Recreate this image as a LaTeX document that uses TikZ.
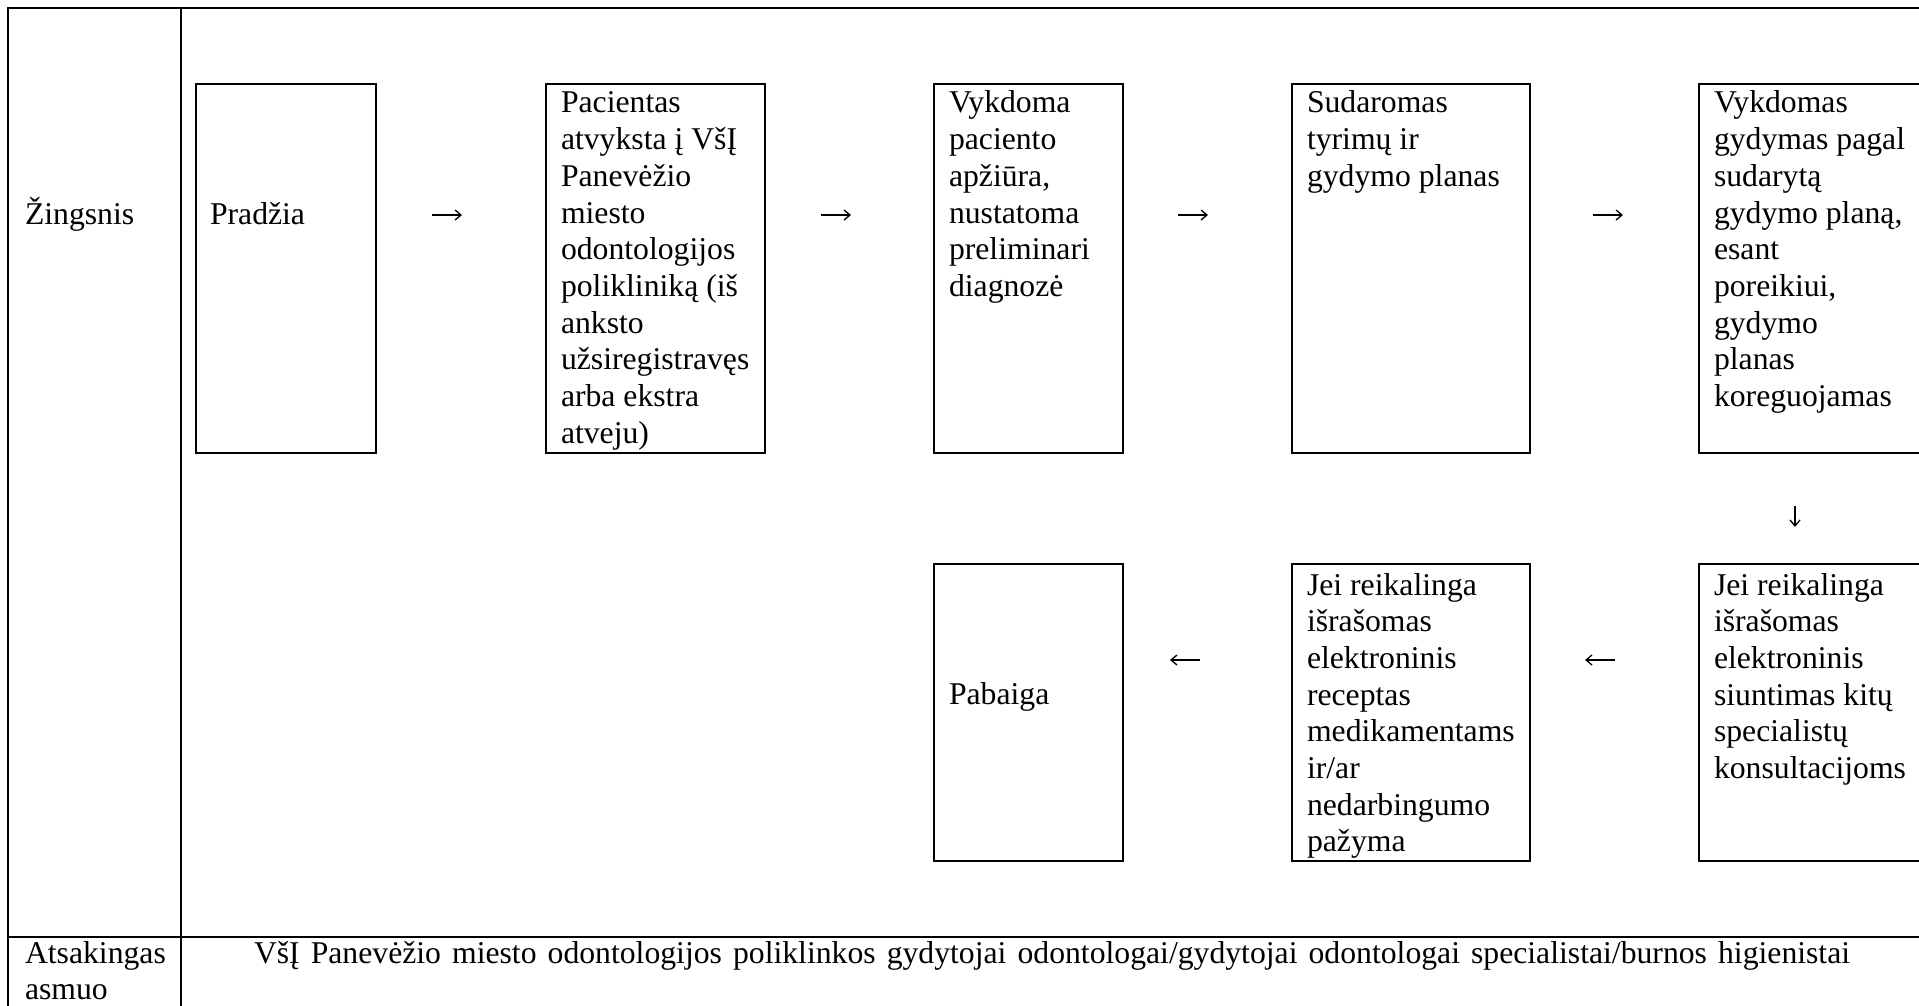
\documentclass[tikz,border=0pt]{standalone}
\usepackage{fontspec}
\setmainfont{Liberation Serif}
\usetikzlibrary{arrows.meta}
\newcommand\celltext[1]{\begin{tabular}[t]{@{}l@{}}#1\end{tabular}}
\begin{document}
\begin{tikzpicture}[x=1pt,y=-1pt,
  every node/.style={inner sep=0pt, outer sep=0pt},
  tableline/.style={line width=2.5pt},
  topbox/.style={draw, line width=2.2pt, anchor=north west, minimum width=#1, minimum height=369pt},
  botbox/.style={draw, line width=2.2pt, anchor=north west, minimum width=#1, minimum height=297pt},
  txt/.style={anchor=base west, font=\fontsize{31.7}{36.7}\selectfont},
  arr/.style={line width=1.3pt, -{Straight Barb[length=6pt,width=10pt,line width=1.3pt]}}
]
\useasboundingbox (0,0) rectangle (1919,1006);
\clip (0,0) rectangle (1919,1006);
\fill[white] (0,0) rectangle (1919,1006);

% table frame
\draw[tableline] (8,1030) -- (8,8) -- (1940,8);
\draw[tableline] (181,8) -- (181,1030);
\draw[tableline] (8,937) -- (1940,937);

% boxes, first row
\node[topbox=180pt] (b1) at (196,84) {};
\node[topbox=219pt] (b2) at (546,84) {};
\node[topbox=189pt] (b3) at (934,84) {};
\node[topbox=238pt] (b4) at (1292,84) {};
\node[topbox=238pt] (b5) at (1699,84) {};
% boxes, second row
\node[botbox=189pt] (c3) at (934,564) {};
\node[botbox=238pt] (c4) at (1292,564) {};
\node[botbox=238pt] (c5) at (1699,564) {};

% texts
\node[txt] (lstep) at (25,224) {Žingsnis};
\node[txt] (tb1) at (210,224) {Pradžia};
\node[txt] (tb2) at (561,113) {\celltext{Pacientas\\atvyksta į VšĮ\\Panevėžio\\miesto\\odontologijos\\polikliniką (iš\\anksto\\užsiregistravęs\\arba ekstra\\atveju)}};
\node[txt] (tb3) at (949,113) {\celltext{Vykdoma\\paciento\\apžiūra,\\nustatoma\\preliminari\\diagnozė}};
\node[txt] (tb4) at (1307,113) {\celltext{Sudaromas\\tyrimų ir\\gydymo planas}};
\node[txt] (tb5) at (1714,113) {\celltext{Vykdomas\\gydymas pagal\\sudarytą\\gydymo planą,\\esant\\poreikiui,\\gydymo\\planas\\koreguojamas}};
\node[txt] (tc3) at (949,704) {Pabaiga};
\node[txt] (tc4) at (1307,595) {\celltext{Jei reikalinga\\išrašomas\\elektroninis\\receptas\\medikamentams\\ir/ar\\nedarbingumo\\pažyma}};
\node[txt] (tc5) at (1714,595) {\celltext{Jei reikalinga\\išrašomas\\elektroninis\\siuntimas kitų\\specialistų\\konsultacijoms}};
\node[txt] (lresp) at (25,963) {\celltext{Atsakingas\\asmuo}};
\node[txt] (tresp) at (254,963) {\makebox[1596pt][s]{VšĮ Panevėžio miesto odontologijos poliklinkos gydytojai odontologai/gydytojai odontologai specialistai/burnos higienistai}};

% connectors
\draw[arr, shorten <=56pt, shorten >=84pt] ([yshift=-131pt]b1.north east) -- ([yshift=-131pt]b2.north west);
\draw[arr, shorten <=56pt, shorten >=83pt] ([yshift=-131pt]b2.north east) -- ([yshift=-131pt]b3.north west);
\draw[arr, shorten <=55pt, shorten >=84pt] ([yshift=-131pt]b3.north east) -- ([yshift=-131pt]b4.north west);
\draw[arr, shorten <=63pt, shorten >=76pt] ([yshift=-131pt]b4.north east) -- ([yshift=-131pt]b5.north west);
\draw[arr, shorten <=53pt, shorten >=37pt] ([xshift=96pt]b5.south west) -- ([xshift=96pt]c5.north west);
\draw[arr, shorten <=84pt, shorten >=55pt] ([yshift=-96pt]c5.north west) -- ([yshift=-96pt]c4.north east);
\draw[arr, shorten <=92pt, shorten >=47pt] ([yshift=-96pt]c4.north west) -- ([yshift=-96pt]c3.north east);
\end{tikzpicture}
\end{document}
